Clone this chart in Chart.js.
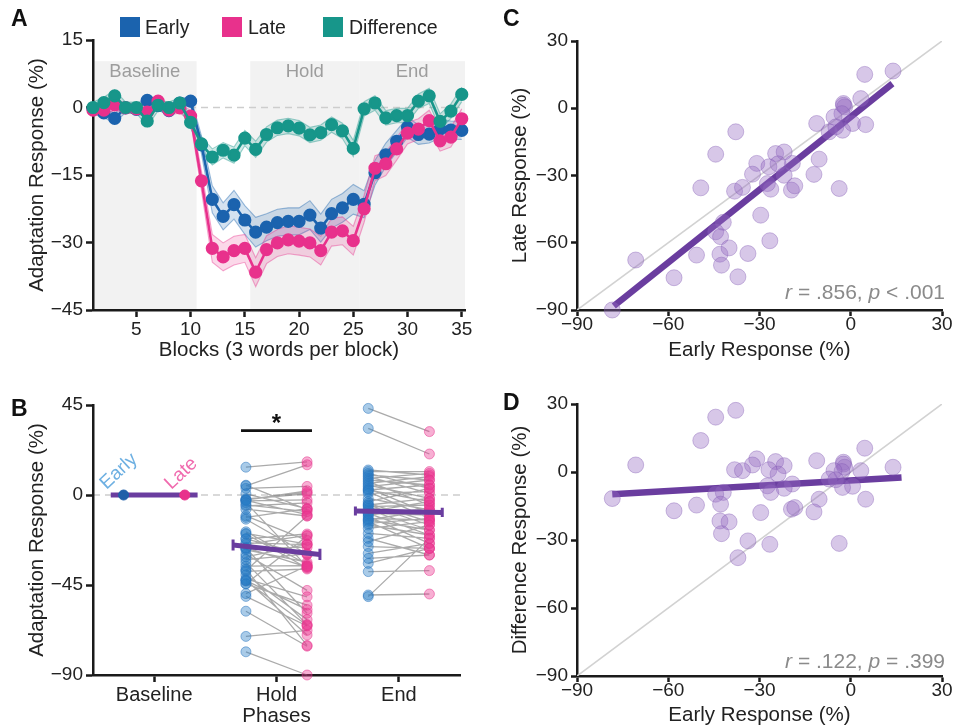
<!DOCTYPE html>
<html><head><meta charset="utf-8">
<script src="https://cdn.jsdelivr.net/npm/chart.js@4.4.1/dist/chart.umd.min.js"></script>
<style>
html,body{margin:0;padding:0;background:#fff;}
body{width:953px;height:726px;position:relative;overflow:hidden;font-family:"Liberation Sans",Arial,Helvetica,sans-serif;}
canvas{position:absolute;}
.lab{position:absolute;font-weight:bold;font-size:23px;color:#111;line-height:24px;}
.leg{position:absolute;font-size:19.5px;color:#222;line-height:22px;}
.sq{position:absolute;width:20px;height:20px;}
</style></head><body>
<canvas id="cA" width="480" height="370" style="left:0;top:0"></canvas>
<canvas id="cB" width="480" height="346" style="left:0;top:380px"></canvas>
<canvas id="cC" width="463" height="370" style="left:490px;top:0"></canvas>
<canvas id="cD" width="463" height="346" style="left:490px;top:380px"></canvas>
<div class="lab" style="left:11px;top:6px">A</div>
<div class="lab" style="left:11px;top:396px">B</div>
<div class="lab" style="left:503px;top:6px">C</div>
<div class="lab" style="left:503px;top:390px">D</div>
<div class="sq" style="left:120px;top:17px;background:#1b63ae"></div><div class="leg" style="left:145px;top:16px">Early</div>
<div class="sq" style="left:222px;top:17px;background:#e8318c"></div><div class="leg" style="left:248px;top:16px">Late</div>
<div class="sq" style="left:323px;top:17px;background:#17968a"></div><div class="leg" style="left:349px;top:16px">Difference</div>
<script>
// ---------------- DATA ----------------
// Panel A: block-wise means (%) and standard errors
const blocks = [1,2,3,4,5,6,7,8,9,10,11,12,13,14,15,16,17,18,19,20,21,22,23,24,25,26,27,28,29,30,31,32,33,34,35];
const earlyMean = [-0.3,-1.2,-2.4,-0.1,-0.4,1.6,0.4,-0.7,1.0,1.4,-8.3,-20.4,-24.2,-21.6,-25.0,-27.7,-26.6,-25.6,-25.3,-25.3,-23.9,-26.8,-23.6,-22.3,-20.4,-21.5,-14.5,-10.5,-7.5,-4.4,-6.0,-5.9,-4.8,-5.0,-5.1];
const lateMean  = [-0.6,-0.6,0.6,-0.1,-0.3,-1.0,1.4,-0.6,-0.1,-1.9,-16.3,-31.3,-33.2,-31.8,-31.3,-36.6,-31.6,-30.1,-29.4,-29.7,-30.1,-31.8,-27.7,-27.4,-29.6,-22.5,-13.5,-12.5,-9.2,-5.7,-4.8,-2.9,-7.4,-6.6,-2.5];
const diffMean  = [0.0,1.1,2.6,0.0,0.0,-3.0,0.5,0.0,1.0,-3.3,-8.1,-11.0,-9.5,-10.6,-6.8,-9.3,-6.0,-4.5,-4.1,-4.6,-6.1,-5.6,-3.8,-5.2,-9.1,-0.3,1.0,-2.3,-1.8,-1.8,1.4,2.6,-3.1,-0.8,2.9];
const earlySE = [1.0,1.0,1.1,1.0,1.0,1.1,1.0,1.0,1.0,1.0,2.0,3.0,3.0,3.2,3.2,3.3,3.0,3.0,3.0,3.0,3.2,3.1,3.2,3.2,3.3,3.0,2.8,2.6,2.4,2.2,2.2,2.0,2.0,2.0,2.0];
const lateSE  = [1.1,1.1,1.2,1.1,1.1,1.2,1.1,1.1,1.1,1.2,2.2,3.1,3.1,3.2,3.1,3.2,3.1,3.0,3.1,3.1,3.1,3.2,3.1,3.1,3.2,3.0,2.8,2.6,2.5,2.4,2.3,2.3,2.3,2.2,2.2];
const diffSE  = [1.2,1.2,1.3,1.2,1.2,1.3,1.2,1.2,1.2,1.3,1.6,1.8,1.7,1.8,1.7,1.8,1.7,1.7,1.7,1.7,1.7,1.7,1.7,1.7,1.8,1.6,1.6,1.6,1.6,1.6,1.6,1.7,1.7,1.6,1.6];
const phaseNames = ['Baseline','Hold','End'];
const phaseStart = [1, 15.5, 25.55];
const phaseEnd   = [10.55, 25.55, 35.3];
const xTicksA = [5,10,15,20,25,30,35];
const yTicksA = [-45,-30,-15,0,15];

// Panel B / C / D: per-participant responses (%)
const holdEarly = [4.6,13.9,3.3,-2.4,-2.0,-2.4,-2.9,-5.5,-11.2,0.6,4.9,-7.1,-2.7,-4.9,-37.8,-44.4,-24.7,-21.9,-30.9,-26.9,-19.2,-10.4,-32.3,-21.9,-12.1,-49.3,-38.2,-35.6,-27.4,-26.3,-19.5,-18.4,-3.8,-29.6,-41.9,-44.4,-42.8,-26.6,-50.7,-43.0,-40.0,-33.8,-42.5,-58.1,-37.1,-70.7,-78.4,-23.9];
const holdLate  = [15.1,16.6,4.3,2.1,0.6,1.3,-2.4,-3.9,-6.8,-6.8,-7.3,-10.5,-9.8,-8.3,-10.5,-20.5,-20.2,-19.5,-24.6,-26.1,-24.6,-22.7,-29.4,-29.9,-29.5,-35.5,-37.0,-35.3,-33.6,-36.1,-36.5,-34.6,-35.8,-47.7,-50.9,-55.1,-57.3,-59.1,-65.5,-65.1,-62.3,-64.8,-70.0,-75.6,-75.2,-67.7,-90.0,-24.8];
const holdDiff  = [10.5,2.1,0.6,4.3,2.1,3.5,0.2,0.6,5.0,-6.3,-12.0,-3.1,-6.8,-3.4,27.2,24.2,4.6,2.8,5.8,1.0,-5.3,-12.0,3.1,-7.2,-17.6,13.9,1.0,0.6,-6.1,-9.0,-16.4,-15.7,-31.5,-17.9,-9.0,-9.8,-14.2,-31.9,-14.6,-21.6,-22.0,-30.4,-27.2,-17.1,-37.8,3.1,-11.7,-0.9];
const endEarly  = [43.3,33.3,12.5,11.7,10.8,10,9.2,8.3,7.5,6.7,5.8,5,4.2,3.3,2.5,2.5,1.7,0.8,-1.7,-3.3,-4.2,-5,-5,-5.8,-6.7,-7.5,-8.3,-9.2,-9.2,-10,-10.8,-11.7,-12.5,-12.5,-13.3,-14.2,-15,-16.7,-19.2,-21.7,-23.3,-25.8,-29.2,-31.7,-34.2,-38.3,-50,-50.8];
const endLate   = [31.7,20.5,10,11.7,3.3,7.5,0.8,10.8,5,-5,9.2,-1.7,7.5,-9.2,5,-3.3,-11.7,1.7,-7.5,3.3,-13.3,-1.7,-15,-5,-8.3,-17.5,-3.3,-10,-20,-6.7,-24.2,-12.5,-7.5,-17.5,-26.7,-11.7,-20,-13.3,-21.7,-30,-15,-26.7,-24.2,-30,-26.7,-37.8,-49.5,-21.7];
const baseEarly = [0];
const baseLate  = [0];
const phaseMeanEarly = [0, -25.0, -8.0];
const phaseMeanLate  = [0, -29.7, -8.7];
const phaseSEEarly   = [0, 2.7, 2.3];
const phaseSELate    = [0, 2.8, 2.3];
const yTicksB = [-90,-45,0,45];
const sigBar = [1.71, 2.29];
const sigLevel = 32.2;

// Panel C / D: fit lines and stats
const regCx = [-77.9, 13.7], regCy = [-88.2, 11.0];
const regDx = [-78.4, 16.7], regDy = [-9.8, -2.4];
const identityRange = [-90, 30];
const ticksCD = [-90,-60,-30,0,30];
const statsC = ['.856','<','.001'];
const statsD = ['.122','=','.399'];

// ---------------- STYLE ----------------
const FONT = '"Liberation Sans", Arial, Helvetica, sans-serif';
const C_EARLY = '#1b63ae', C_LATE = '#e8318c', C_DIFF = '#17968a', C_PURPLE = '#6a3d9f';
const fmt = v => v < 0 ? '\u2212' + Math.abs(v) : String(v);

function mkAxis(o){
  return {
    type:'linear', min:o.min, max:o.max, position:o.pos,
    border:{display:true,color:'#1a1a1a',width:2.5},
    grid:{display:true,drawOnChartArea:false,drawTicks:true,tickLength:(o.tickLen||7),tickWidth:2.5,tickColor:'#1a1a1a',color:'#1a1a1a'},
    ticks:{font:{family:FONT,size:o.tickSize||19},color:'#222',padding:(o.tickPad!==undefined?o.tickPad:3),callback:o.cb||fmt,maxRotation:0,autoSkip:false},
    afterBuildTicks:s=>{ s.ticks = o.ticks.map(v=>({value:v})); },
    afterFit:s=>{ if(o.pos==='left') s.width=o.size; else s.height=o.size; },
    title:{display:true,text:o.title,font:{family:FONT,size:20.5},color:'#222',padding:o.tpad}
  };
}
const baseOpts = {responsive:false, animation:false, events:[], plugins:{legend:{display:false},tooltip:{enabled:false}}};

// ---------------- PANEL A ----------------
const toPts = ys => ys.map((y,i)=>({x:blocks[i], y}));
function meanLine(ys,c){ return {data:toPts(ys),borderColor:c,backgroundColor:c,pointBackgroundColor:c,pointBorderColor:c,pointRadius:5.3,borderWidth:2.6,fill:false,clip:false,tension:0}; }
function band(ys,se,rgb,sign,fillPrev){
  return {data:ys.map((y,i)=>({x:blocks[i], y:y+sign*se[i]})),borderColor:`rgba(${rgb},0.42)`,borderWidth:1.1,pointRadius:0,
          fill:fillPrev?'-1':false,backgroundColor:`rgba(${rgb},0.19)`,tension:0};
}
const phasePlugin = {id:'phasesA', beforeDraw(chart){
  const {ctx, chartArea:a, scales:{x,y}} = chart;
  ctx.save();
  ctx.fillStyle = '#f2f2f2';
  const yt = y.getPixelForValue(10.3), yb = y.getPixelForValue(-45);
  phaseNames.forEach((n,i)=>{
    const x0 = x.getPixelForValue(phaseStart[i]), x1 = x.getPixelForValue(phaseEnd[i]);
    ctx.fillRect(x0, yt, x1-x0, yb-yt);
  });
  ctx.fillStyle = '#9d9d9d'; ctx.font = '18.5px '+FONT; ctx.textAlign='center'; ctx.textBaseline='middle';
  phaseNames.forEach((n,i)=>{
    const x0 = x.getPixelForValue(phaseStart[i]), x1 = x.getPixelForValue(phaseEnd[i]);
    ctx.fillText(n, (x0+x1)/2, y.getPixelForValue(8.0));
  });
  const y0 = y.getPixelForValue(0);
  ctx.strokeStyle = '#cdcdcd'; ctx.lineWidth = 1.6; ctx.setLineDash([7,5]);
  ctx.beginPath(); ctx.moveTo(a.left, y0); ctx.lineTo(a.right, y0); ctx.stroke();
  ctx.restore();
}};
new Chart(document.getElementById('cA'), {
  type:'line',
  data:{datasets:[
    meanLine(diffMean, C_DIFF), meanLine(lateMean, C_LATE), meanLine(earlyMean, C_EARLY),
    band(diffMean,diffSE,'23,150,138',-1,false), band(diffMean,diffSE,'23,150,138',1,true),
    band(lateMean,lateSE,'232,49,140',-1,false), band(lateMean,lateSE,'232,49,140',1,true),
    band(earlyMean,earlySE,'27,99,174',-1,false), band(earlyMean,earlySE,'27,99,174',1,true)
  ]},
  options:Object.assign({}, baseOpts, {
    layout:{padding:{top:40,right:15,left:0,bottom:0}},
    scales:{
      x: mkAxis({pos:'bottom',min:1,max:35.3,ticks:xTicksA,size:60,title:'Blocks (3 words per block)',tpad:{top:0,bottom:7},tickPad:1}),
      y: mkAxis({pos:'left',min:-45,max:15,ticks:yTicksA,size:93,title:'Adaptation Response (%)',tpad:{top:25,bottom:0}})
    }
  }),
  plugins:[phasePlugin]
});

// ---------------- PANEL B ----------------
function connectors(e,l,c){ const d=[]; e.forEach((v,i)=>{ d.push({x:c-0.25,y:v},{x:c+0.25,y:l[i]},{x:c+0.25,y:null}); }); return d; }
function dots(vals,xv,bg,bd,r){ return {data:vals.map(v=>({x:xv,y:v})),showLine:false,pointRadius:r||5,pointBackgroundColor:bg,pointBorderColor:bd,pointBorderWidth:1,clip:false}; }
const meanSeg = [], capSeg = [];
phaseNames.forEach((p,i)=>{
  const c=i+1, xl=c-0.355, xr=c+0.355;
  meanSeg.push({x:xl,y:phaseMeanEarly[i]},{x:xr,y:phaseMeanLate[i]},{x:xr,y:null});
  if(phaseSEEarly[i]>0){
    capSeg.push({x:xl,y:phaseMeanEarly[i]-phaseSEEarly[i]},{x:xl,y:phaseMeanEarly[i]+phaseSEEarly[i]},{x:xl,y:null});
    capSeg.push({x:xr,y:phaseMeanLate[i]-phaseSELate[i]},{x:xr,y:phaseMeanLate[i]+phaseSELate[i]},{x:xr,y:null});
  }
});
const E_BG='rgba(40,125,198,0.40)', E_BD='rgba(40,115,190,0.50)', L_BG='rgba(236,55,145,0.40)', L_BD='rgba(230,50,140,0.50)';
const pluginB = {id:'pluginB',
  beforeDraw(chart){
    const {ctx, chartArea:a, scales:{y}} = chart; const y0=y.getPixelForValue(0);
    ctx.save(); ctx.strokeStyle='#cdcdcd'; ctx.lineWidth=1.6; ctx.setLineDash([7,5]);
    ctx.beginPath(); ctx.moveTo(a.left,y0); ctx.lineTo(a.right,y0); ctx.stroke(); ctx.restore();
  },
  afterDatasetsDraw(chart){
    const {ctx, scales:{x,y}} = chart;
    ctx.save();
    ctx.font = '19px '+FONT; ctx.textAlign='left'; ctx.textBaseline='alphabetic';
    [['Early',0.61,2.5,'#6eb0e2'],['Late',1.14,2.5,'#f06aae']].forEach(([t,xv,yv,c])=>{
      ctx.save(); ctx.translate(x.getPixelForValue(xv), y.getPixelForValue(yv)); ctx.rotate(-43*Math.PI/180);
      ctx.fillStyle=c; ctx.fillText(t,0,0); ctx.restore();
    });
    ctx.fillStyle='#111'; ctx.font='bold 24px '+FONT; ctx.textAlign='center'; ctx.textBaseline='middle';
    ctx.fillText('*', x.getPixelForValue((sigBar[0]+sigBar[1])/2), y.getPixelForValue(sigLevel)-6);
    ctx.restore();
  }
};
new Chart(document.getElementById('cB'), {
  type:'line',
  data:{datasets:[
    dots(baseEarly,0.75,'#1f5fa8','#1f5fa8',5), dots(baseLate,1.25,C_LATE,C_LATE,5),
    {data:meanSeg,borderColor:C_PURPLE,borderWidth:5,pointRadius:0,spanGaps:false,clip:false},
    {data:capSeg,borderColor:C_PURPLE,borderWidth:3,pointRadius:0,spanGaps:false,clip:false},
    {data:[{x:sigBar[0],y:sigLevel},{x:sigBar[1],y:sigLevel}],borderColor:'#111',borderWidth:2.8,pointRadius:0},
    dots(holdEarly,1.75,E_BG,E_BD), dots(holdLate,2.25,L_BG,L_BD),
    dots(endEarly,2.75,E_BG,E_BD), dots(endLate,3.25,L_BG,L_BD),
    {data:connectors(holdEarly,holdLate,2),borderColor:'rgba(100,100,100,0.55)',borderWidth:1.3,pointRadius:0,spanGaps:false,clip:false},
    {data:connectors(endEarly,endLate,3),borderColor:'rgba(100,100,100,0.55)',borderWidth:1.3,pointRadius:0,spanGaps:false,clip:false}
  ]},
  options:Object.assign({}, baseOpts, {
    layout:{padding:{top:25,right:20,left:0,bottom:0}},
    scales:{
      x: mkAxis({pos:'bottom',min:0.5,max:3.5,ticks:[1,2,3],size:51,title:'Phases',tpad:{top:0,bottom:-3},tickPad:1,tickSize:20,cb:v=>phaseNames[v-1]}),
      y: mkAxis({pos:'left',min:-90,max:45,ticks:yTicksB,size:93,title:'Adaptation Response (%)',tpad:{top:25,bottom:0}})
    }
  }),
  plugins:[pluginB]
});

// ---------------- PANELS C & D ----------------
function statsPlugin(id, st, dy){
  return {id, afterDatasetsDraw(chart){
    const {ctx, chartArea:a} = chart;
    const parts = [['r',true],[' = '+st[0]+', ',false],['p',true],[' '+st[1]+' '+st[2],false]];
    ctx.save(); ctx.fillStyle='#8a8a8a'; ctx.textBaseline='alphabetic'; ctx.textAlign='left';
    const fN='21px '+FONT, fI='italic 21px '+FONT;
    let w=0; parts.forEach(([t,it])=>{ ctx.font=it?fI:fN; w+=ctx.measureText(t).width; });
    let xx = a.right + 3 - w; const yy = a.bottom - dy;
    parts.forEach(([t,it])=>{ ctx.font=it?fI:fN; ctx.fillText(t,xx,yy); xx+=ctx.measureText(t).width; });
    ctx.restore();
  }};
}
function scatterChart(id, ys, rx, ry, yTitle, st, padTop, xSize, xTitlePad, dy){
  new Chart(document.getElementById(id), {
    type:'line',
    data:{datasets:[
      {data:holdEarly.map((v,i)=>({x:v,y:ys[i]})),showLine:false,pointRadius:8,pointBackgroundColor:'rgba(150,108,195,0.38)',pointBorderColor:'rgba(130,90,180,0.38)',pointBorderWidth:1,clip:false},
      {data:[{x:rx[0],y:ry[0]},{x:rx[1],y:ry[1]}],borderColor:C_PURPLE,borderWidth:6.5,pointRadius:0,borderCapStyle:'butt'},
      {data:[{x:identityRange[0],y:identityRange[0]},{x:identityRange[1],y:identityRange[1]}],borderColor:'#d2d2d2',borderWidth:1.6,pointRadius:0}
    ]},
    options:Object.assign({}, baseOpts, {
      layout:{padding:{top:padTop,right:11,left:0,bottom:0}},
      scales:{
        x: mkAxis({pos:'bottom',min:-90,max:30,ticks:ticksCD,size:xSize,title:'Early Response (%)',tpad:{top:0,bottom:xTitlePad},tickPad:-3,tickLen:6}),
        y: mkAxis({pos:'left',min:-90,max:30,ticks:ticksCD,size:87,title:yTitle,tpad:{top:18,bottom:0},tickLen:6})
      }
    }),
    plugins:[statsPlugin(id+'s', st, dy)]
  });
}
scatterChart('cC', holdLate, regCx, regCy, 'Late Response (%)', statsC, 41, 60, 7, 11);
scatterChart('cD', holdDiff, regDx, regDy, 'Difference Response (%)', statsD, 24, 50, -2, 8);
</script>
</body></html>
